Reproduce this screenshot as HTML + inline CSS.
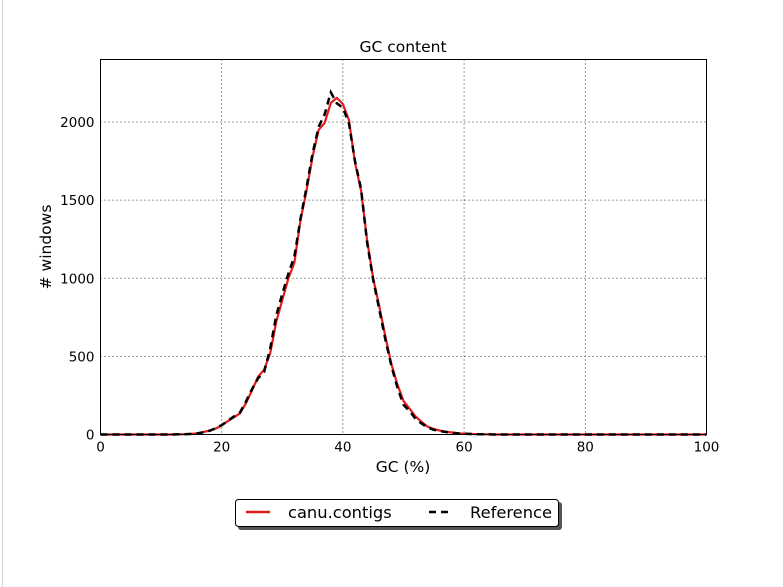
<!DOCTYPE html>
<html><head><meta charset="utf-8"><style>
body{margin:0;background:#fff;}
svg{display:block;font-family:"DejaVu Sans","Liberation Sans",sans-serif;}
</style></head><body>
<svg id="chart" width="783" height="587" viewBox="0 0 783 587">
<rect x="0" y="0" width="783" height="587" fill="#fff"/>
<line x1="2.5" y1="0" x2="2.5" y2="587" stroke="#d0d0dc" stroke-width="1"/>
<text x="403" y="52" text-anchor="middle" font-size="15.5">GC content</text>
<g id="grid"></g>
<g id="series"></g>
<rect x="100.5" y="59.5" width="606" height="375" fill="none" stroke="#000" stroke-width="1"/>
<g id="ticks"></g>
<text x="403" y="472" text-anchor="middle" font-size="15.5">GC (%)</text>
<text transform="translate(51,247) rotate(-90)" text-anchor="middle" font-size="15.5"># windows</text>
<g>
<rect x="238" y="502" width="324" height="28" rx="3" fill="#555"/>
<rect x="235.5" y="499.5" width="323" height="27" rx="3" fill="#fff" stroke="#000"/>
<line x1="246" y1="512" x2="270" y2="512" stroke="#e41a1c" stroke-width="2.5"/>
<text x="288" y="518" font-size="16.3">canu.contigs</text>
<line x1="429" y1="512" x2="453" y2="512" stroke="#000" stroke-width="2.5" stroke-dasharray="7,5"/>
<text x="470" y="518" font-size="16.3">Reference</text>
</g>
</svg>
<script>
const gcX = [0,5,10,11,12,13,14,15,16,17,18,19,20,21,22,23,24,25,26,27,28,29,30,31,32,33,34,35,36,37,38,39,40,41,42,43,44,45,46,47,48,49,50,51,52,53,54,55,56,57,58,59,60,61,62,63,64,65,70,80,90,100];
const canuY = [0,0,0,0,0,1,2,4,8,16,25,38,58,85,110,135,200,282,370,415,520,720,860,1000,1100,1372,1560,1780,1950,1995,2122,2154,2115,2010,1740,1560,1244,1000,820,630,450,320,215,165,115,80,50,35,25,18,13,8,5,4,2,1,1,0,0,0,0,0];
const refY  = [0,0,0,0,0,1,2,4,8,14,24,40,60,88,115,140,210,290,360,400,550,760,900,1030,1140,1380,1580,1800,1970,2050,2190,2120,2090,1990,1750,1570,1230,990,800,610,440,300,190,150,100,70,45,30,22,16,11,7,5,3,2,1,1,0,0,0,0,0];
const xTicks = [0,20,40,60,80,100];
const yTicks = [0,500,1000,1500,2000];
const ns = "http://www.w3.org/2000/svg";
const X0=100.5, X1=706.5, Y0=434.5, Y1=59.5, XMAX=100, YMAX=2400;
function sx(v){return X0+(X1-X0)*v/XMAX;}
function sy(v){return Y0-(Y0-Y1)*v/YMAX;}
function mk(tag, attrs, parent){const e=document.createElementNS(ns,tag);for(const k in attrs)e.setAttribute(k,attrs[k]);parent.appendChild(e);return e;}
const grid=document.getElementById('grid'), ticks=document.getElementById('ticks'), series=document.getElementById('series');
xTicks.forEach(t=>{
  const x=sx(t);
  if(t>0&&t<XMAX){const g=mk('line',{x1:x,y1:Y1,x2:x,y2:Y0,stroke:'#000','stroke-width':0.8,'stroke-dasharray':'1,3'},grid);
  
  }
  const tl=mk('text',{x:x,y:Y0+17,'text-anchor':'middle','font-size':13.5},ticks);
  tl.textContent=t;
  
  
});
yTicks.forEach(t=>{
  const y=sy(t);
  if(t>0){const g=mk('line',{x1:X0,y1:y,x2:X1,y2:y,stroke:'#000','stroke-width':0.8,'stroke-dasharray':'1,3'},grid);
  
  }
  const tl=mk('text',{x:X0-6,y:y+5,'text-anchor':'end','font-size':13.5},ticks);
  tl.textContent=t;
  
  
});
function path(ys){return gcX.map((v,i)=>(i?'L':'M')+sx(v).toFixed(1)+','+sy(ys[i]).toFixed(1)).join('');}
const red=mk('path',{d:path(canuY),fill:'none',stroke:'#e41a1c','stroke-width':2.2,'stroke-linejoin':'round'},series);


const ref=mk('path',{d:path(refY),fill:'none',stroke:'#000','stroke-width':2.5,'stroke-dasharray':'7,5'},series);


</script>
</body></html>
